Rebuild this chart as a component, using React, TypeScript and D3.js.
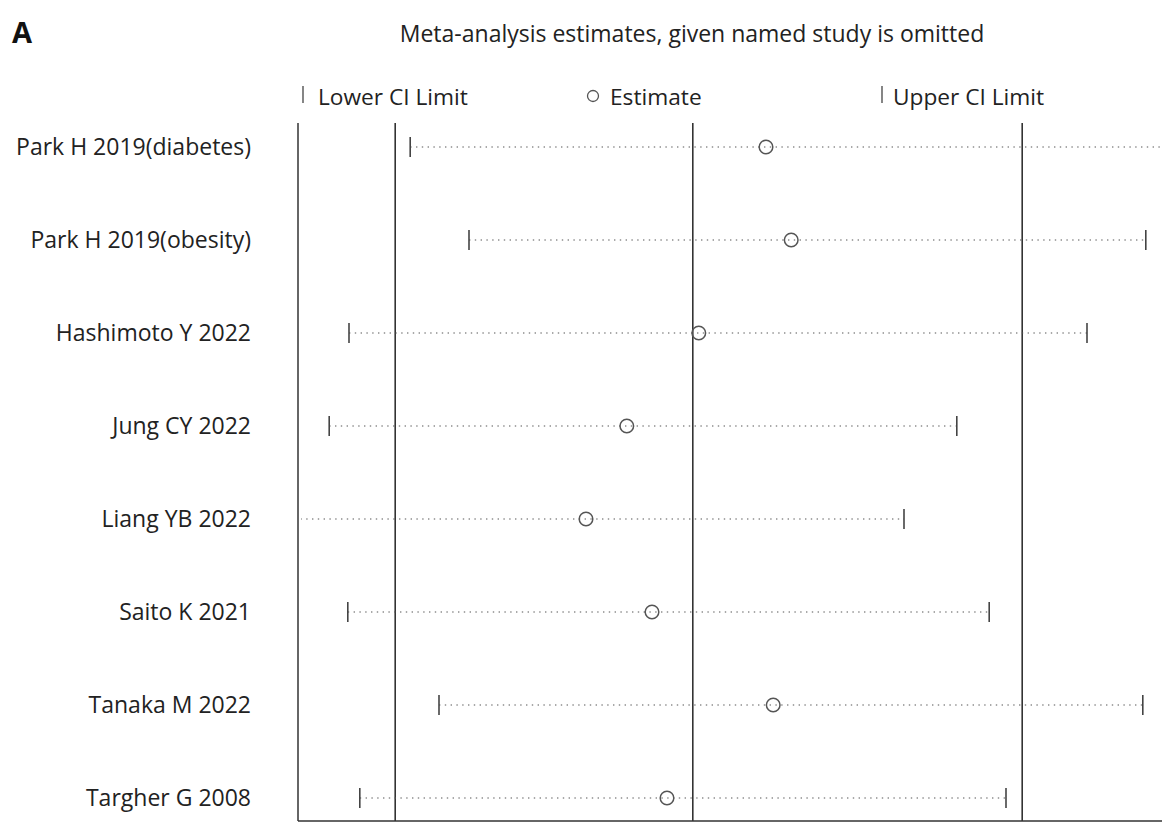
import React from "react";
import * as d3 from "d3";

const studies = [
  "Park H 2019(diabetes)",
  "Park H 2019(obesity)",
  "Hashimoto Y 2022",
  "Jung CY 2022",
  "Liang YB 2022",
  "Saito K 2021",
  "Tanaka M 2022",
  "Targher G 2008",
];
const lowerCI = [1.187, 1.285, 1.085, 1.052, 0.975, 1.083, 1.235, 1.103];
const estimate = [1.78, 1.822, 1.668, 1.548, 1.48, 1.59, 1.792, 1.615];
const upperCI = [2.47, 2.413, 2.315, 2.098, 2.01, 2.152, 2.408, 2.18];
const overall = { lower: 1.162, est: 1.658, upper: 2.207 };

const W = 1162;
const H = 823;
const FONT = "'Open Sans', 'Noto Sans', sans-serif";

export default function App() {
  const x = d3.scaleLinear().domain([1.0, 2.44]).range([298, 1162]);
  const y = d3.scalePoint<string>().domain(studies).range([147, 798]);
  const frameTop = 123;
  const frameBottom = 821;
  const tickH = 10;

  return (
    <svg
      width={W}
      height={H}
      style={{ position: "absolute", left: 0, top: 0, background: "#fff" }}
    >
      <defs>
        <clipPath id="plotclip">
          <rect x={301} y={frameTop} width={859} height={frameBottom - frameTop} />
        </clipPath>
      </defs>
      <text x={12} y={43} fontFamily={FONT} fontWeight={700} fontSize={29} fill="#111">
        A
      </text>
      <text
        x={692}
        y={42}
        textAnchor="middle"
        fontFamily={FONT}
        fontSize={23}
        fill="#222"
      >
        Meta-analysis estimates, given named study is omitted
      </text>

      {/* legend */}
      <line x1={303} x2={303} y1={86} y2={103} stroke="#444" strokeWidth={1.3} />
      <text x={318} y={105} fontFamily={FONT} fontSize={22.7} fill="#222">
        Lower CI Limit
      </text>
      <circle cx={593} cy={96} r={5.5} fill="#fff" stroke="#555" strokeWidth={1.3} />
      <text x={610} y={105} fontFamily={FONT} fontSize={22.7} fill="#222">
        Estimate
      </text>
      <line x1={882} x2={882} y1={86} y2={103} stroke="#444" strokeWidth={1.3} />
      <text x={893} y={105} fontFamily={FONT} fontSize={22.7} fill="#222">
        Upper CI Limit
      </text>

      {/* frame */}
      <line x1={298} x2={298} y1={frameTop} y2={frameBottom} stroke="#333" strokeWidth={1.5} />
      <line x1={298} x2={W} y1={frameBottom} y2={frameBottom} stroke="#333" strokeWidth={1.5} />

      {/* overall reference lines */}
      {[overall.lower, overall.est, overall.upper].map((v, i) => (
        <line
          key={i}
          x1={x(v)}
          x2={x(v)}
          y1={frameTop}
          y2={frameBottom}
          stroke="#333"
          strokeWidth={1.6}
        />
      ))}

      {/* study labels */}
      {studies.map((s) => (
        <text
          key={s}
          x={251}
          y={(y(s) as number) + 7.5}
          textAnchor="end"
          fontFamily={FONT}
          fontSize={23}
          fill="#222"
        >
          {s}
        </text>
      ))}

      <g clipPath="url(#plotclip)">
        {studies.map((s, i) => {
          const cy = y(s) as number;
          return (
            <g key={s}>
              <line
                x1={x(lowerCI[i])}
                x2={x(upperCI[i])}
                y1={cy}
                y2={cy}
                stroke="#555"
                strokeWidth={1.2}
                strokeDasharray="1.4 4.4"
              />
              <line
                x1={x(lowerCI[i])}
                x2={x(lowerCI[i])}
                y1={cy - tickH}
                y2={cy + tickH}
                stroke="#444"
                strokeWidth={1.6}
              />
              <line
                x1={x(upperCI[i])}
                x2={x(upperCI[i])}
                y1={cy - tickH}
                y2={cy + tickH}
                stroke="#444"
                strokeWidth={1.6}
              />
              <circle
                cx={x(estimate[i])}
                cy={cy}
                r={6.8}
                fill="#fff"
                fillOpacity={0}
                stroke="#555"
                strokeWidth={1.5}
              />
            </g>
          );
        })}
      </g>
    </svg>
  );
}
